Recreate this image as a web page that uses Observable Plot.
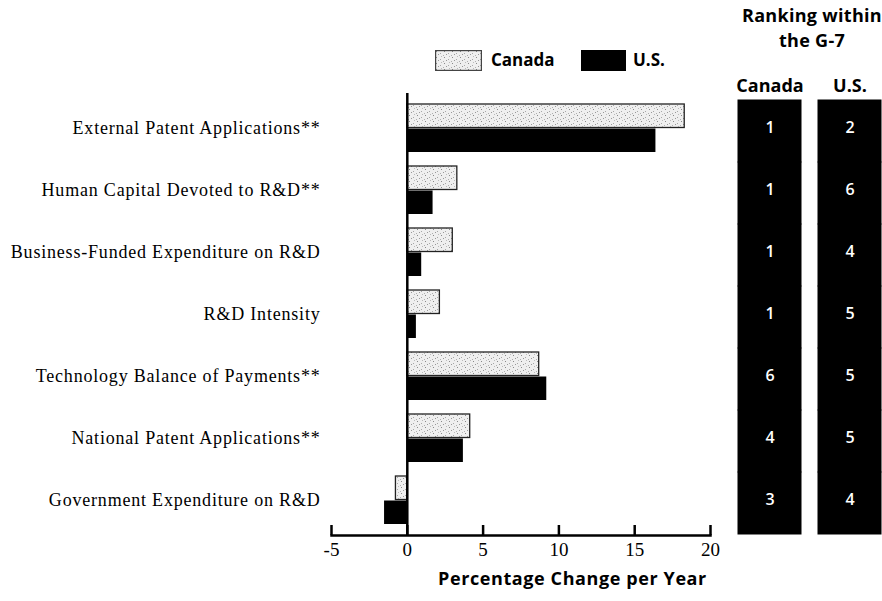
<!DOCTYPE html>
<html><head><meta charset="utf-8">
<script src="https://cdn.jsdelivr.net/npm/d3@7"></script>
<script src="https://cdn.jsdelivr.net/npm/@observablehq/plot@0.6"></script>
<style>
body{margin:0;background:#fff;overflow:hidden}
#wrap{position:relative;width:882px;height:601px;overflow:hidden}
#wrap > svg{position:absolute;left:0;top:0}
#wrap g[aria-label="y-axis tick label"] text{letter-spacing:0.8px}
.abs{position:absolute}
.sans{font-family:"Open Sans",sans-serif;font-weight:700;color:#000;white-space:nowrap}
</style></head><body>
<svg width="0" height="0" style="position:absolute"><defs>
<pattern id="stip" width="8" height="6" patternUnits="userSpaceOnUse">
<rect width="8" height="6" fill="#efefef"/>
<rect x="1" y="1" width="1" height="1" fill="#8a8a8a"/>
<rect x="5" y="3" width="1" height="1" fill="#a8a8a8"/>
<rect x="3" y="4" width="1" height="1" fill="#999"/>
<rect x="6" y="0" width="1" height="1" fill="#bbb"/>
<rect x="0" y="5" width="1" height="1" fill="#b0b0b0"/>
</pattern></defs></svg>
<div id="wrap"></div>
<script>
const categories = [
  "External Patent Applications**",
  "Human Capital Devoted to R&D**",
  "Business-Funded Expenditure on R&D",
  "R&D Intensity",
  "Technology Balance of Payments**",
  "National Patent Applications**",
  "Government Expenditure on R&D"
];
const canadaValues = [18.3, 3.3, 3.0, 2.15, 8.7, 4.15, -0.75];
const usValues = [16.4, 1.7, 0.95, 0.6, 9.2, 3.7, -1.5];
const rankCanada = [1, 1, 1, 1, 6, 4, 3];
const rankUS = [2, 6, 4, 5, 5, 5, 4];
const countries = ["Canada", "U.S."];
const xTicks = [-5, 0, 5, 10, 15, 20];

const rows = categories.map((c, i) => ({category: c, canada: canadaValues[i], us: usValues[i]}));
const rankRows = categories.flatMap((c, i) => [
  {category: c, country: "Canada", rank: rankCanada[i]},
  {category: c, country: "U.S.", rank: rankUS[i]}
]);

const wrap = document.getElementById("wrap");

const main = Plot.plot({
  width: 882, height: 601,
  marginLeft: 331, marginRight: 172, marginTop: 93, marginBottom: 66,
  x: {domain: [-5, 20], label: null},
  y: {domain: categories, paddingInner: 0.222, paddingOuter: 0.119, label: null},
  style: {fontFamily: "'Liberation Serif', serif", fontSize: "18px", color: "#000", background: "transparent"},
  marks: [
    Plot.barX(rows, {y: "category", x: "canada", fill: "url(#stip)", stroke: "#222", strokeWidth: 1.3, insetBottom: 24.5}),
    Plot.barX(rows, {y: "category", x: "us", fill: "#000", insetTop: 24.5}),
    Plot.ruleX([0], {strokeWidth: 2.5}),
    Plot.frame({anchor: "bottom", strokeWidth: 2.5}),
    Plot.axisX({ticks: xTicks, tickSize: 10, dy: -10, tickFormat: () => "", strokeWidth: 2.5}),
    Plot.axisX({ticks: xTicks, tickSize: 0, tickPadding: 7, tickFormat: d => String(d), fontSize: 19}),
    Plot.axisY({tickSize: 0, tickPadding: 11})
  ]
});
wrap.appendChild(main);

const rank = Plot.plot({
  width: 882, height: 601,
  marginLeft: 737, marginRight: 0, marginTop: 100, marginBottom: 67,
  x: {domain: countries, paddingInner: 0.207, paddingOuter: 0, label: null},
  y: {domain: categories, padding: 0, axis: null, label: null},
  style: {fontFamily: "'Open Sans', sans-serif", fontWeight: 700, color: "#000", background: "transparent"},
  marks: [
    Plot.cell(rankRows, {x: "country", y: "category", fill: "#000", stroke: "#000"}),
    Plot.text(rankRows, {x: "country", y: "category", text: "rank", fill: "#fff", fontSize: 16, fontWeight: 600, dy: -4}),
    Plot.axisX({anchor: "top", tickSize: 0, tickPadding: 9, fontSize: 18, fontWeight: 700})
  ]
});
wrap.appendChild(rank);

function addDiv(html, css, cls) {
  const d = document.createElement("div");
  d.className = "abs " + (cls || "");
  d.innerHTML = html;
  Object.assign(d.style, css);
  wrap.appendChild(d);
  return d;
}
// Ranking title
addDiv("Ranking within<br>the G-7", {left: "712px", top: "3px", width: "200px", textAlign: "center", fontSize: "18px", lineHeight: "25px", letterSpacing: "0.3px"}, "sans");
// Legend
addDiv('<svg width="47" height="21"><rect x="0.6" y="0.6" width="45.8" height="19.8" fill="url(#stip)" stroke="#444" stroke-width="1.2"/></svg>', {left: "435px", top: "50px", lineHeight: "0"});
addDiv(countries[0], {left: "491px", top: "49px", fontSize: "17px", lineHeight: "22px"}, "sans");
addDiv('<svg width="45" height="21"><rect width="45" height="21" fill="#000"/></svg>', {left: "581px", top: "50px", lineHeight: "0"});
addDiv(countries[1], {left: "633px", top: "49px", fontSize: "17px", lineHeight: "22px"}, "sans");
// Axis title
addDiv("Percentage Change per Year", {left: "438px", top: "567px", fontSize: "18px", lineHeight: "22px", letterSpacing: "0.6px"}, "sans");
</script>
</body></html>
